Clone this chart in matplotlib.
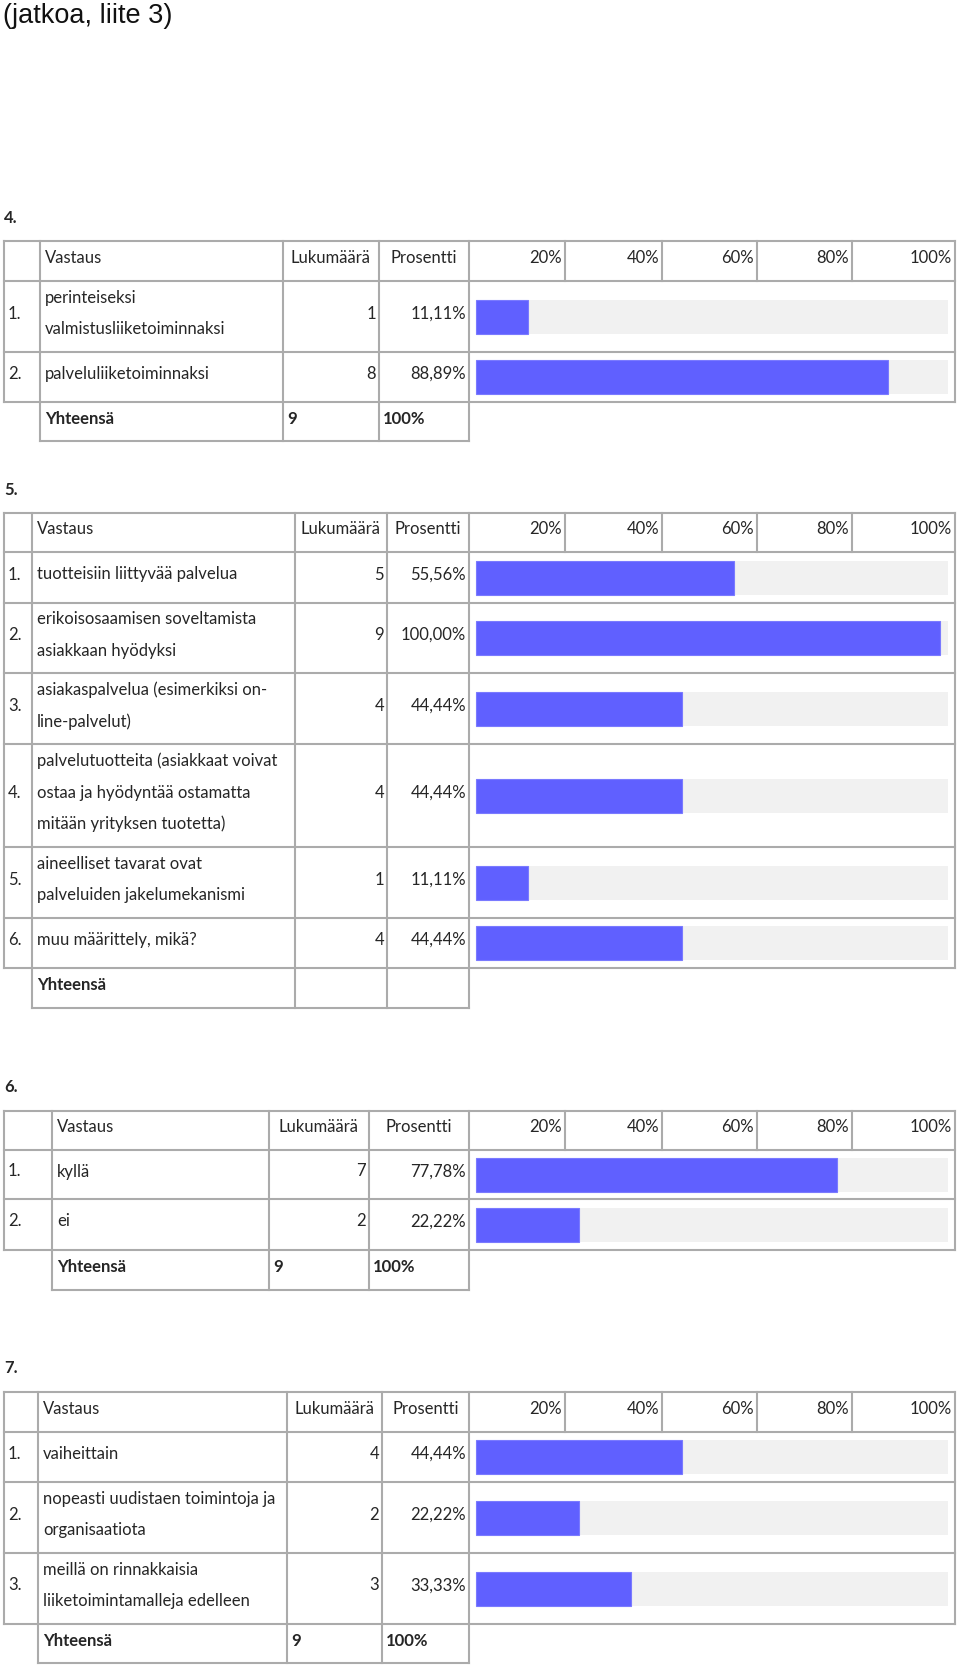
import matplotlib

matplotlib.use("Agg")
import matplotlib.pyplot as plt

# ---- data -------------------------------------------------------------
title = "(jatkoa, liite 3)"
header_labels = ["Vastaus", "Lukumäärä", "Prosentti"]
tick_labels = ["20%", "40%", "60%", "80%", "100%"]

q4_answers = ["perinteiseksi\nvalmistusliiketoiminnaksi", "palveluliiketoiminnaksi"]
q4_counts = [1, 8]
q4_pcts = [11.11, 88.89]
q4_total = ("9", "100%")

q5_answers = [
    "tuotteisiin liittyvää palvelua",
    "erikoisosaamisen soveltamista\nasiakkaan hyödyksi",
    "asiakaspalvelua (esimerkiksi on-\nline-palvelut)",
    "palvelutuotteita (asiakkaat voivat\nostaa ja hyödyntää ostamatta\nmitään yrityksen tuotetta)",
    "aineelliset tavarat ovat\npalveluiden jakelumekanismi",
    "muu määrittely, mikä?",
]
q5_counts = [5, 9, 4, 4, 1, 4]
q5_pcts = [55.56, 100.00, 44.44, 44.44, 11.11, 44.44]
q5_total = ("", "")

q6_answers = ["kyllä", "ei"]
q6_counts = [7, 2]
q6_pcts = [77.78, 22.22]
q6_total = ("9", "100%")

q7_answers = [
    "vaiheittain",
    "nopeasti uudistaen toimintoja ja\norganisaatiota",
    "meillä on rinnakkaisia\nliiketoimintamalleja edelleen",
]
q7_counts = [4, 2, 3]
q7_pcts = [44.44, 22.22, 33.33]
q7_total = ("9", "100%")

# ---- layout (pixels) ----------------------------------------------------
W, H = 960, 1666
FONT = "Lato"
TXT = "#262626"
GRID = "#ababab"
BAR = "#6060ff"
BAR_BG = "#f1f1f1"
PX_PER_PCT = 4.64   # bar length for 1 %
BAR_X0 = 476        # where the bar starts
BG_END = 948        # end of the grey track
BAR_H = 34
LINE_GAP = 31.5
TICK_X = [565, 662, 757, 852, 955]

tables = [
    dict(label="4.", label_y=218, top=241, hb=281, rows=[352, 402], bottom=441,
         cols=[4, 40, 283, 379, 469, 955],
         answers=q4_answers, counts=q4_counts, pcts=q4_pcts, total=q4_total),
    dict(label="5.", label_y=490, top=513, hb=552, rows=[603, 673, 744, 847, 918, 968],
         bottom=1008, cols=[4, 32, 295, 387, 469, 955],
         answers=q5_answers, counts=q5_counts, pcts=q5_pcts, total=q5_total),
    dict(label="6.", label_y=1087, top=1111, hb=1150, rows=[1199, 1250], bottom=1290,
         cols=[4, 52, 269, 369, 469, 955],
         answers=q6_answers, counts=q6_counts, pcts=q6_pcts, total=q6_total),
    dict(label="7.", label_y=1368, top=1392, hb=1432, rows=[1482, 1553, 1624], bottom=1663,
         cols=[4, 38, 287, 382, 469, 955],
         answers=q7_answers, counts=q7_counts, pcts=q7_pcts, total=q7_total),
]


def fmt_pct(p):
    return f"{p:.2f}".replace(".", ",") + "%"


def draw_table(ax, fig, t):
    cols = t["cols"]
    top, hb, rows, bottom = t["top"], t["hb"], t["rows"], t["bottom"]
    last = rows[-1]
    kw = dict(color=GRID, lw=1.5, solid_capstyle="projecting")

    # grid
    for y in [top, hb] + rows:
        ax.plot([cols[0], cols[-1]], [y, y], **kw)
    ax.plot([cols[1], cols[4]], [bottom, bottom], **kw)
    ax.plot([cols[0], cols[0]], [top, last], **kw)
    ax.plot([cols[-1], cols[-1]], [top, last], **kw)
    for x in cols[1:5]:
        ax.plot([x, x], [top, bottom], **kw)
    for x in TICK_X[:-1]:
        ax.plot([x, x], [top, hb], **kw)

    tkw = dict(fontsize=12, color=TXT, family=FONT, va="center")
    hy = (top + hb) / 2 - 3
    ax.text(cols[1] + 5, hy, header_labels[0], ha="left", **tkw)
    ax.text((cols[2] + cols[3]) / 2, hy, header_labels[1], ha="center", **tkw)
    ax.text((cols[3] + cols[4]) / 2, hy, header_labels[2], ha="center", **tkw)
    for x, lab in zip(TICK_X, tick_labels):
        ax.text(x - 3, hy, lab, ha="right", **tkw)

    ax.text(4, t["label_y"], t["label"], ha="left", fontsize=12, color=TXT,
            family=FONT, weight="bold", va="center")

    edges = [hb] + rows
    centers = []
    for i, ans in enumerate(t["answers"]):
        c = (edges[i] + edges[i + 1]) / 2
        centers.append(c)
        cy = c - 3
        ax.text(cols[0] + 4, cy, f"{i + 1}.", ha="left", **tkw)
        lines = ans.split("\n")
        for j, line in enumerate(lines):
            ax.text(cols[1] + 5, cy + (j - (len(lines) - 1) / 2) * LINE_GAP,
                    line, ha="left", **tkw)
        ax.text(cols[3] - 3, cy, str(t["counts"][i]), ha="right", **tkw)
        ax.text(cols[4] - 3, cy, fmt_pct(t["pcts"][i]), ha="right", **tkw)

    ty = (last + bottom) / 2 - 3
    ax.text(cols[1] + 5, ty, "Yhteensä", ha="left", weight="bold", **tkw)
    ax.text(cols[2] + 4, ty, t["total"][0], ha="left", weight="bold", **tkw)
    ax.text(cols[3] + 4, ty, t["total"][1], ha="left", weight="bold", **tkw)

    # bars in their own axes, x in percent
    left, right = cols[4], cols[5]
    bax = fig.add_axes([left / W, 1 - last / H, (right - left) / W, (last - hb) / H])
    bax.set_xlim((left - BAR_X0) / PX_PER_PCT, (right - BAR_X0) / PX_PER_PCT)
    bax.set_ylim(last, hb)
    bax.axis("off")
    full = (BG_END - BAR_X0) / PX_PER_PCT
    bax.barh(centers, [full] * len(centers), height=BAR_H, color=BAR_BG)
    bax.barh(centers, t["pcts"], height=BAR_H, color=BAR,
             edgecolor="#7a7aff", linewidth=0.8)


fig = plt.figure(figsize=(W / 100, H / 100), dpi=100)
ax = fig.add_axes([0, 0, 1, 1])
ax.set_xlim(0, W)
ax.set_ylim(H, 0)
ax.axis("off")

ax.text(3, 16, title, fontsize=19.5, family="Liberation Sans", color="#111111",
        ha="left", va="center")

for t in tables:
    draw_table(ax, fig, t)

fig.savefig("out.png", dpi=100)
plt.close(fig)
